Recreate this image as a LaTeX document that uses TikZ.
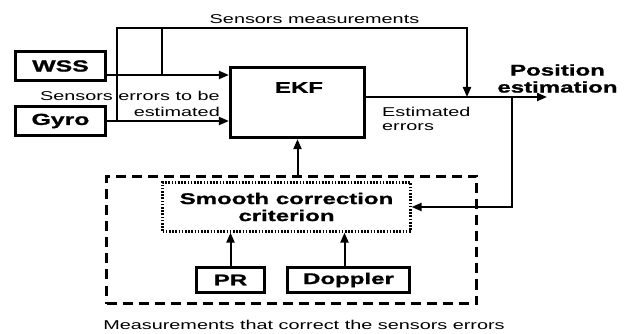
\documentclass[tikz,border=0pt]{standalone}
\usepackage{fontspec}
\setmainfont[FakeStretch=1.55, BoldFeatures={FakeBold=1.2}]{Liberation Sans}
\usetikzlibrary{arrows.meta,calc}
\begin{document}
\begin{tikzpicture}[x=1pt,y=-1pt,
  reg/.style={font=\fontsize{12.8}{16}\selectfont, inner sep=0pt},
  bld/.style={font=\fontsize{15.5}{17}\selectfont\bfseries, inner sep=0pt},
  box/.style={draw, line width=2.2pt, inner sep=0pt},
  conn/.style={line width=2pt},
  arr/.style={conn,-{Triangle[length=10pt,width=8pt]}},
]
\useasboundingbox[fill=white] (0,0) rectangle (630,334);
% boxes
\node[box, bld, font=\fontsize{16}{17}\selectfont\bfseries, minimum width=90pt, minimum height=29pt] (wss) at (60.5,66) {WSS};
\node[box, bld, font=\fontsize{16}{17}\selectfont\bfseries, minimum width=90pt, minimum height=29pt] (gyro) at (60.5,121) {Gyro};
\node[draw, line width=3.2pt, minimum width=134pt, minimum height=70pt, inner sep=0pt] (ekf) at (297.5,102.5) {};
\node[bld] (ekft) at (299,87.5) {EKF};
\node[draw, line width=3.2pt, dash pattern=on 10pt off 6pt, minimum width=370pt, minimum height=127pt, inner sep=0pt] (dbox) at (291.5,240) {};
\node[draw, line width=2.2pt, dash pattern=on 1.6pt off 1.6pt, bld, align=center, minimum width=248pt, minimum height=49pt] (sc) at (286.5,207) {Smooth correction\\criterion};
\node[box, bld, minimum width=68pt, minimum height=25pt] (pr) at (230.5,280) {PR};
\node[box, bld, minimum width=122pt, minimum height=25pt] (dop) at (348.5,280) {Doppler};
% coordinates
\coordinate (wssout) at (106,75);
\coordinate (j1) at (117,121);
\coordinate (top1) at (117,28);
\coordinate (j2) at (162,75);
\coordinate (top2) at (162,28);
\coordinate (tr) at (467,28);
\coordinate (m) at (467,97);
\coordinate (out) at (547,97);
\coordinate (fb) at (512,97);
% connectors
\draw[arr] (wssout) -- (wssout -| ekf.west);
\draw[arr] (gyro.east) -- (gyro.east -| ekf.west);
\draw[arr] (j1) -- (top1) -- (tr) -- (m);
\draw[conn] (j2) -- (top2);
\draw[arr] (ekf.east |- out) -- (out);
\draw[arr] (fb) |- (sc.east);
\draw[arr] (dbox.north -| ekf.south) -- (ekf.south);
\draw[arr] (pr.north) -- (pr.north |- sc.south);
\draw[arr] ($(dop.north)+(-4,0)$) -- ($(dop.north |- sc.south)+(-4,0)$);
% labels
\node[reg] (lsm) at (314.5,19.5) {Sensors measurements};
\node[reg, align=right, anchor=east] (lse) at (220,103.5) {Sensors errors to be\\estimated};
\node[reg, font=\fontsize{12.8}{14}\selectfont, align=left, anchor=west] (lee) at (382,118.5) {Estimated\\errors};
\node[bld, align=center] (lpe) at (557.5,78.5) {Position\\estimation};
\node[reg] (lcap) at (304,325) {Measurements that correct the sensors errors};
\end{tikzpicture}
\end{document}
